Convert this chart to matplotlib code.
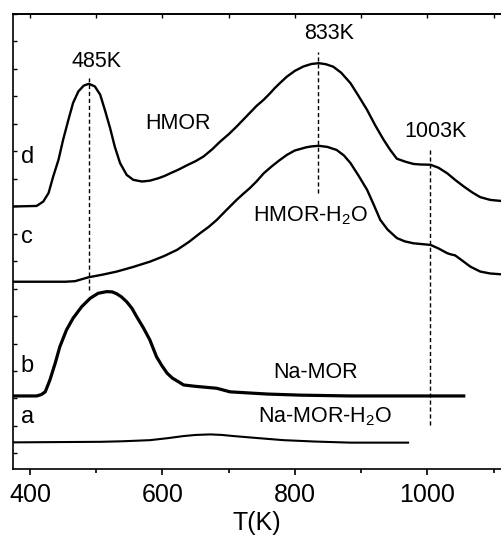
import numpy as np
import matplotlib.pyplot as plt
from matplotlib.ticker import MultipleLocator, NullFormatter

plt.rcParams['font.family'] = ['Liberation Sans', 'DejaVu Sans']
plt.rcParams['mathtext.fontset'] = 'custom'
plt.rcParams['mathtext.rm'] = 'Liberation Sans'

# TPD curves (temperature in K, intensity in arbitrary units, curves stacked)
# d : HMOR
T_d = [375, 410, 420, 428, 435, 443, 450, 458, 465, 473, 481, 489, 498, 506, 513, 521,
       528, 536, 546, 556, 569, 581, 594, 603, 612, 624, 637, 650, 662, 675, 687, 700,
       712, 722, 732, 742, 753, 762, 770, 779, 788, 800, 813, 825, 836, 847, 858, 870,
       884, 895, 909, 921, 934, 944, 954, 967, 979, 989, 1005, 1017, 1030, 1042, 1055,
       1068, 1080, 1095, 1112]
I_d = [8.99, 9.01, 9.17, 9.48, 10.08, 10.69, 11.42, 12.15, 12.76, 13.18, 13.39, 13.46, 13.36,
       13.06, 12.51, 11.84, 11.17, 10.57, 10.14, 9.96, 9.90, 9.93, 10.02, 10.10, 10.20, 10.33,
       10.49, 10.64, 10.81, 11.07, 11.35, 11.62, 11.90, 12.15, 12.40, 12.65, 12.88, 13.10,
       13.31, 13.52, 13.72, 13.93, 14.09, 14.18, 14.21, 14.17, 14.08, 13.86, 13.48, 13.06,
       12.51, 11.96, 11.42, 11.05, 10.73, 10.62, 10.54, 10.52, 10.51, 10.40, 10.20, 9.96,
       9.72, 9.50, 9.33, 9.23, 9.19]

# c : HMOR-H2O
T_c = [375, 453, 468, 488, 510, 531, 556, 581, 602, 622, 640, 657, 670, 682, 697, 712,
       722, 732, 742, 753, 765, 776, 788, 800, 818, 826, 836, 849, 863, 874, 884, 896,
       909, 919, 929, 940, 954, 966, 979, 992, 1005, 1017, 1030, 1035, 1042, 1050, 1065,
       1080, 1095, 1112]
I_c = [6.25, 6.25, 6.27, 6.41, 6.51, 6.62, 6.79, 6.98, 7.18, 7.41, 7.70, 8.02, 8.25, 8.50,
       8.87, 9.23, 9.45, 9.66, 9.90, 10.20, 10.45, 10.66, 10.87, 11.03, 11.15, 11.18, 11.20,
       11.16, 11.05, 10.85, 10.57, 10.12, 9.60, 9.06, 8.50, 8.15, 7.84, 7.72, 7.65, 7.62,
       7.59, 7.46, 7.29, 7.25, 7.21, 7.07, 6.80, 6.62, 6.55, 6.52]

# b : Na-MOR
T_b = [375, 410, 417, 423, 430, 438, 445, 455, 465, 478, 491, 503, 516, 524, 531, 538,
       546, 554, 561, 571, 581, 591, 599, 607, 615, 624, 632, 650, 682, 702, 730, 758,
       808, 884, 1055]
I_b = [2.09, 2.09, 2.14, 2.24, 2.67, 3.28, 3.88, 4.49, 4.92, 5.34, 5.65, 5.83, 5.89, 5.88,
       5.81, 5.70, 5.52, 5.28, 4.98, 4.58, 4.13, 3.52, 3.20, 2.92, 2.74, 2.61, 2.49, 2.44,
       2.37, 2.24, 2.20, 2.16, 2.12, 2.09, 2.09]

# a : Na-MOR-H2O
T_a = [375, 506, 540, 581, 607, 632, 650, 672, 690, 707, 732, 757, 783, 830, 884, 971]
I_a = [0.40, 0.42, 0.44, 0.48, 0.55, 0.63, 0.67, 0.69, 0.67, 0.63, 0.58, 0.53, 0.48, 0.43,
       0.39, 0.39]

# peak markers
peak_T = [489, 835, 1004]
peak_lo = [5.95, 9.49, 1.03]
peak_hi = [13.68, 14.63, 11.05]
peak_labels = ["485K", "833K", "1003K"]
peak_label_T = [501, 852, 1012]
peak_label_I = [14.26, 15.28, 11.71]

# sample names
names = ["HMOR", "HMOR-H$_2$O", "Na-MOR", "Na-MOR-H$_2$O"]
names_T = [624, 823, 831, 846]
names_I = [12.0, 8.65, 2.96, 1.32]

letters = ["d", "c", "b", "a"]
letters_I = [10.80, 7.88, 3.19, 1.32]

fig = plt.figure(figsize=(5.01, 5.39), dpi=100)
ax = fig.add_axes([13 / 501, 1 - 469 / 539, 488 / 501, 455 / 539])

ax.plot(T_d, I_d, color="black", linewidth=1.7)
ax.plot(T_c, I_c, color="black", linewidth=1.7)
ax.plot(T_b, I_b, color="black", linewidth=2.3)
ax.plot(T_a, I_a, color="black", linewidth=1.5)

for t, lo, hi in zip(peak_T, peak_lo, peak_hi):
    ax.plot([t, t], [lo, hi], color="black", linewidth=1.0, linestyle=(0, (3, 2)))

for lab, t, i in zip(peak_labels, peak_label_T, peak_label_I):
    ax.text(t, i, lab, fontsize=15.5, ha="center", va="center")

for lab, t, i in zip(names, names_T, names_I):
    ax.text(t, i, lab, fontsize=15.5, ha="center", va="center")

for lab, i in zip(letters, letters_I):
    ax.text(396, i, lab, fontsize=17, ha="center", va="center")

ax.set_xlim(374.3, 1111.3)
ax.set_ylim(-0.57, 16.0)

ax.xaxis.set_major_locator(MultipleLocator(200))
ax.xaxis.set_minor_locator(MultipleLocator(100))
ax.yaxis.set_major_locator(MultipleLocator(1))
ax.yaxis.set_major_formatter(NullFormatter())
ax.tick_params(axis="x", which="major", direction="out", length=4, width=1.2, labelsize=18, pad=6)
ax.tick_params(axis="x", which="minor", direction="out", length=3, width=1.2)
ax.tick_params(axis="y", which="major", direction="in", length=3, width=1.0)
ax.spines["right"].set_visible(False)
for s in ["left", "top", "bottom"]:
    ax.spines[s].set_linewidth(1.2)

# top axis with inward ticks
top = ax.secondary_xaxis("top")
top.xaxis.set_major_locator(MultipleLocator(100))
top.tick_params(direction="in", length=3, width=1.0, labeltop=False)
top.spines["top"].set_linewidth(1.2)

ax.set_xlabel("T(K)", fontsize=18, labelpad=3)

plt.savefig("out.png", dpi=100)
plt.close()
